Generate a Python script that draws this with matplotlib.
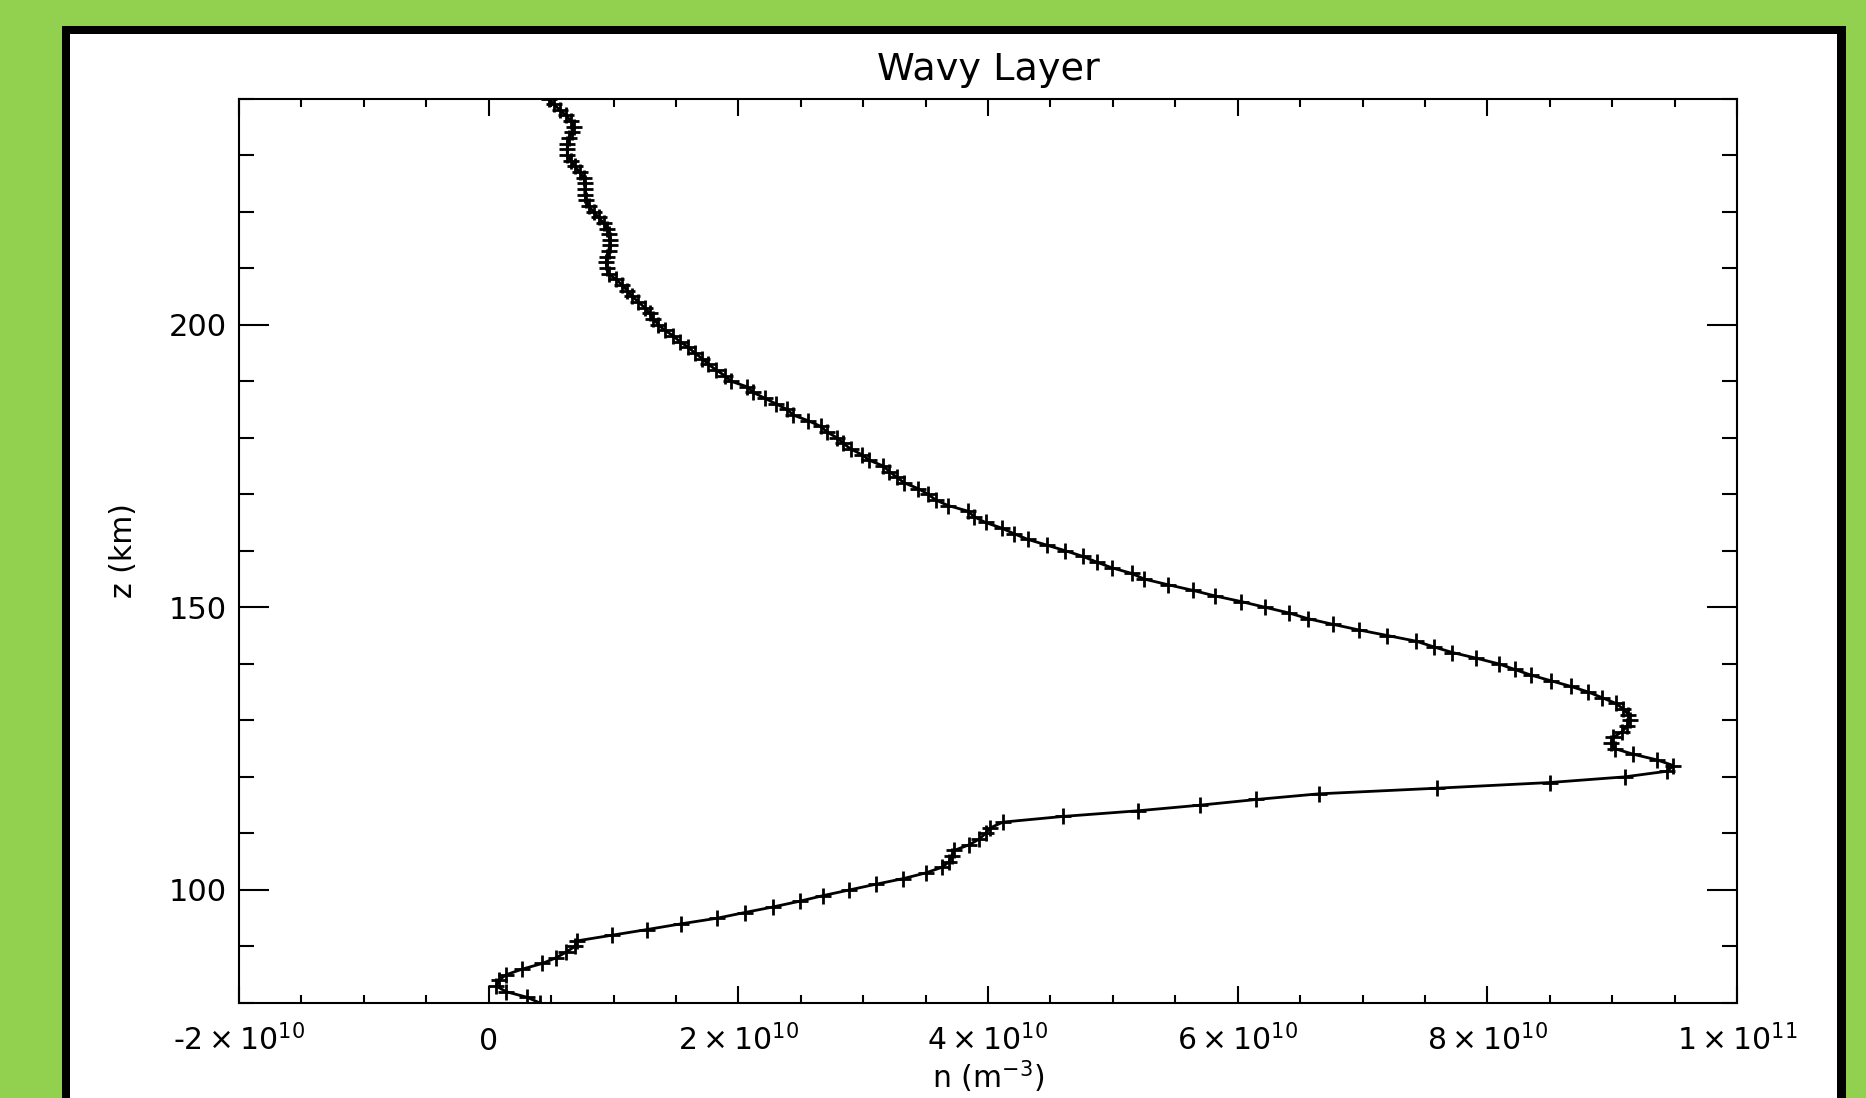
import matplotlib
matplotlib.use("Agg")
import matplotlib.pyplot as plt
from matplotlib.patches import Rectangle
from matplotlib.ticker import MultipleLocator

# altitude grid (km) and density (units of 1e9 m^-3)
z_km = [80, 81, 82, 83, 84, 85, 86, 87, 88, 89,
        90, 91, 92, 93, 94, 95, 96, 97, 98, 99,
        100, 101, 102, 103, 104, 105, 106, 107, 108, 109,
        110, 111, 112, 113, 114, 115, 116, 117, 118, 119,
        120, 121, 122, 123, 124, 125, 126, 127, 128, 129,
        130, 131, 132, 133, 134, 135, 136, 137, 138, 139,
        140, 141, 142, 143, 144, 145, 146, 147, 148, 149,
        150, 151, 152, 153, 154, 155, 156, 157, 158, 159,
        160, 161, 162, 163, 164, 165, 166, 167, 168, 169,
        170, 171, 172, 173, 174, 175, 176, 177, 178, 179,
        180, 181, 182, 183, 184, 185, 186, 187, 188, 189,
        190, 191, 192, 193, 194, 195, 196, 197, 198, 199,
        200, 201, 202, 203, 204, 205, 206, 207, 208, 209,
        210, 211, 212, 213, 214, 215, 216, 217, 218, 219,
        220, 221, 222, 223, 224, 225, 226, 227, 228, 229,
        230, 231, 232, 233, 234, 235, 236, 237, 238, 239, 240]
n_e9 = [4.1, 3.1, 1.4, 0.6, 0.8, 1.4, 2.7, 4.3, 5.4, 6.2,
        6.9, 7.1, 9.9, 12.7, 15.4, 18.3, 20.5, 22.8, 24.9, 26.8,
        28.9, 31.0, 33.2, 35.0, 36.3, 36.9, 37.1, 37.3, 38.5, 39.3,
        39.8, 40.2, 41.2, 46.0, 52.0, 57.0, 61.5, 66.5, 76.0, 85.0,
        91.0, 94.4, 94.9, 93.6, 91.7, 90.2, 89.9, 90.1, 90.8, 91.2,
        91.4, 91.3, 90.9, 90.3, 89.2, 88.1, 86.7, 85.1, 83.5, 82.2,
        80.9, 79.1, 77.2, 75.7, 74.3, 72.0, 69.7, 67.6, 65.6, 64.1,
        62.2, 60.3, 58.2, 56.4, 54.4, 52.5, 51.5, 49.9, 48.7, 47.6,
        46.2, 44.7, 43.2, 42.1, 41.1, 39.8, 38.9, 38.4, 36.8, 35.8,
        35.2, 34.4, 33.3, 32.7, 32.1, 31.6, 30.5, 29.9, 29.0, 28.4,
        27.9, 27.1, 26.6, 25.6, 24.4, 23.9, 23.0, 22.1, 21.2, 20.7,
        19.4, 18.9, 18.2, 17.6, 17.1, 16.5, 16.0, 15.3, 14.8, 14.1,
        13.6, 13.2, 12.9, 12.5, 12.0, 11.5, 11.1, 10.7, 10.2, 9.6,
        9.5, 9.4, 9.5, 9.6, 9.7, 9.7, 9.6, 9.5, 9.2, 8.8,
        8.4, 8.0, 7.8, 7.7, 7.7, 7.7, 7.6, 7.3, 6.9, 6.6,
        6.3, 6.3, 6.3, 6.4, 6.7, 6.8, 6.6, 6.2, 5.7, 5.2, 4.8]

x_ticks = [-2e10, 0, 2e10, 4e10, 6e10, 8e10, 1e11]
x_tick_labels = [r'-$2\times10^{10}$', '0', r'$2\times10^{10}$', r'$4\times10^{10}$',
                 r'$6\times10^{10}$', r'$8\times10^{10}$', r'$1\times10^{11}$']
y_ticks = [100, 150, 200]

n_vals = [v * 1e9 for v in n_e9]

W, H = 1866, 1098
fig = plt.figure(figsize=(W / 100, H / 100), dpi=100)
fig.patch.set_facecolor('#92D050')

# black frame + white panel (pixel positions -> figure fractions)
def fr(x0, y0, x1, y1):
    return (x0 / W, 1 - y1 / H), (x1 - x0) / W, (y1 - y0) / H

xy, w, h = fr(62, 26, 1846, 1120)
fig.add_artist(Rectangle(xy, w, h, transform=fig.transFigure, facecolor='black',
                         edgecolor='none', zorder=-10))
xy, w, h = fr(70, 34, 1837, 1120)
fig.add_artist(Rectangle(xy, w, h, transform=fig.transFigure, facecolor='white',
                         edgecolor='none', zorder=-9))

ax = fig.add_axes([239 / W, 1 - 1003 / H, (1737 - 239) / W, (1003 - 98.5) / H])
ax.set_facecolor('white')

ax.plot(n_vals, z_km, color='black', lw=2.0, marker='+', ms=12, mew=2.0)

ax.set_xlim(-2e10, 1e11)
ax.set_ylim(80, 240)

ax.set_xticks(x_ticks)
ax.set_xticklabels(x_tick_labels)
ax.xaxis.set_minor_locator(MultipleLocator(5e9))
ax.set_yticks(y_ticks)
ax.yaxis.set_minor_locator(MultipleLocator(10))

for s in ax.spines.values():
    s.set_linewidth(1.5)

ax.tick_params(axis='both', which='both', direction='in', top=True, right=True,
               width=1.5, labelsize=21.5)
ax.tick_params(axis='x', which='major', length=12, pad=34)
ax.tick_params(axis='x', which='minor', length=6)
ax.tick_params(axis='y', which='major', length=21.5, pad=9, labelsize=22)
ax.tick_params(axis='y', which='minor', length=11)
plt.setp(ax.get_xticklabels(), va='baseline')

ax.set_title('Wavy Layer', fontsize=27.5, va='center', y=1.0315, pad=0)
ax.set_xlabel(r'n (m$^{-3}$)', fontsize=21.5, va='center')
ax.xaxis.set_label_coords(0.5, -0.082)
ax.set_ylabel('z (km)', fontsize=21.5, va='center')
ax.yaxis.set_label_coords(-0.0774, 0.5)

fig.savefig('out.png', dpi=100, facecolor=fig.get_facecolor())
